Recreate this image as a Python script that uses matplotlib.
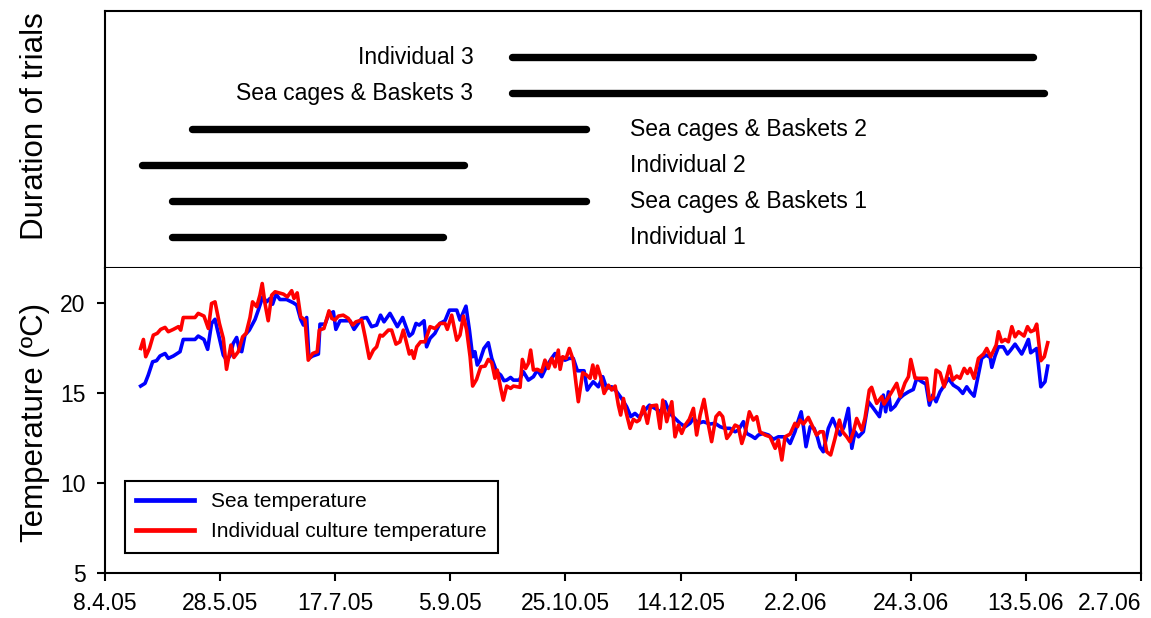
import matplotlib
matplotlib.use('Agg')
import matplotlib.pyplot as plt
import pandas as pd

plt.rcParams['font.family'] = ['Liberation Sans', 'DejaVu Sans']

start = pd.Timestamp('2005-04-08')

# trial durations (bottom to top)
trial_names = ['Individual 1', 'Sea cages & Baskets 1', 'Individual 2',
               'Sea cages & Baskets 2', 'Sea cages & Baskets 3', 'Individual 3']
trial_start = ['2005-05-07', '2005-05-07', '2005-04-24',
               '2005-05-16', '2005-10-02', '2005-10-02']
trial_end = ['2005-09-02', '2005-11-03', '2005-09-11',
             '2005-11-03', '2006-05-21', '2006-05-16']
label_side = ['right', 'right', 'right', 'right', 'left', 'left']

# days since 8.4.05 and temperatures
sea_day = [15.5, 17.4, 18.8, 20.7, 22.4, 23.9, 26.1, 27.5, 29.7, 32.6, 34.0, 39.1, 40.5, 43.0, 44.6,
           46.3, 47.8, 49.7, 51.4, 52.8, 54.3, 55.7, 57.2, 58.4, 59.4, 60.8, 62.7, 65.2, 66.6, 68.5,
           70.2, 71.7, 72.8, 74.3, 76.0, 78.9, 81.8, 83.3, 85.0, 86.2, 87.6, 88.6, 90.2, 92.7, 93.4,
           95.6, 97.0, 99.2, 100.3, 102.1, 106.4, 108.2, 110.0, 111.5, 113.7, 115.8, 118.0, 119.7,
           121.2, 123.8, 127.0, 129.3, 132.2, 133.6, 135.1, 136.5, 138.6, 139.7, 141.2, 143.3, 145.5,
           147.7, 149.6, 152.8, 154.2, 156.8, 158.3, 159.7, 160.7, 161.7, 162.9, 164.6, 166.5, 168.0,
           170.1, 171.9, 173.3, 174.5, 176.2, 177.4, 180.0, 181.7, 183.9, 186.1, 187.8, 189.7, 191.9,
           194.0, 195.5, 197.7, 199.8, 201.7, 203.4, 205.2, 208.1, 209.5, 210.7, 212.1, 214.3, 216.2,
           217.9, 220.1, 222.3, 224.4, 226.6, 228.4, 230.2, 232.1, 233.9, 236.5, 238.9, 241.4, 243.3,
           245.4, 247.6, 249.8, 252.0, 254.1, 255.6, 257.8, 259.9, 262.8, 265.0, 267.2, 269.3, 271.5,
           273.7, 275.1, 277.3, 278.7, 280.9, 282.4, 283.8, 286.0, 288.2, 290.3, 292.5, 295.4, 297.6,
           299.7, 301.2, 302.4, 303.4, 304.5, 306.3, 308.0, 309.4, 310.6, 312.0, 314.2, 316.1, 317.6,
           319.3, 321.0, 322.9, 324.4, 325.8, 327.3, 329.4, 331.6, 333.8, 336.4, 338.1, 339.1, 340.3,
           341.3, 343.2, 345.1, 346.8, 349.0, 351.1, 352.6, 354.8, 356.6, 358.1, 359.5, 361.0, 362.7,
           364.9, 366.3, 368.5, 370.7, 372.6, 374.3, 375.8, 377.5, 378.9, 380.8, 382.7, 384.5, 385.2,
           386.6, 388.1, 390.2, 392.0, 393.4, 395.3, 398.2, 399.7, 401.1, 402.1, 404.7, 406.5, 408.3,
           409.5]
sea_temp = [15.39, 15.54, 16.0, 16.74, 16.8, 17.06, 17.2, 16.93, 17.06, 17.3, 17.98, 17.98, 18.17, 17.98, 17.43,
            18.87, 19.1, 18.04, 17.11, 16.83, 17.06, 17.76, 18.09, 17.39, 17.3, 18.22, 18.5, 19.1, 19.61, 20.35,
            20.07, 20.26, 19.94, 20.5, 20.2, 20.2, 20.02, 19.89, 19.1, 18.78, 19.2, 16.93, 17.06, 17.17, 18.83,
            18.83, 19.33, 19.52, 18.54, 19.02, 19.02, 18.54, 18.87, 19.15, 19.2, 18.69, 18.78, 19.33,
            18.96, 19.43, 18.69, 19.2, 18.17, 18.32, 18.87, 18.78, 19.02, 17.57, 18.04, 18.32, 18.87,
            19.02, 19.61, 19.61, 19.06, 19.83, 18.5, 17.02, 17.3, 16.56, 16.83, 17.48, 17.8, 16.93,
            16.19, 16.0, 15.69, 15.72, 15.87, 15.72, 15.72, 16.19, 15.72, 15.91, 16.28, 15.91, 16.5,
            16.93, 17.2, 16.93, 16.83, 16.93, 16.93, 16.24, 16.24, 15.17, 15.4, 15.63, 15.35, 15.91,
            15.26, 15.35, 15.07, 14.7, 14.24, 13.69, 13.87, 13.65, 13.96, 14.33, 14.15, 13.96, 14.52,
            13.87, 13.59, 13.32, 13.13, 13.32, 13.59, 13.32, 13.41, 13.28, 13.32, 13.13, 13.04, 13.04,
            12.85, 12.94, 13.41, 12.76, 12.61, 12.48, 12.67, 12.76, 12.67, 12.43, 12.57, 12.57, 12.2,
            12.85, 13.5, 13.96, 13.13, 12.02, 13.13, 13.04, 12.57, 12.0, 11.74, 13.04, 13.59, 13.13,
            12.67, 13.13, 14.15, 11.93, 12.85, 12.57, 12.85, 14.52, 14.15, 13.69, 14.89, 13.96, 15.07,
            14.06, 14.28, 14.7, 14.89, 15.07, 15.2, 15.82, 15.63, 15.5, 14.33, 14.89, 14.52, 15.07,
            15.5, 15.82, 15.44, 15.26, 14.98, 15.35, 15.07, 14.83, 15.72, 16.93, 17.11, 16.98, 16.43,
            17.06, 17.57, 17.57, 17.17, 17.39, 17.72, 17.17, 17.57, 17.98, 17.24, 17.48, 15.35, 15.63,
            16.5]

cult_day = [15.5, 16.7, 17.7, 19.3, 21.0, 22.7, 24.2, 26.1, 27.5, 29.7, 31.9, 32.9, 34.0, 39.1, 40.5,
            43.0, 44.9, 46.3, 47.8, 49.7, 51.4, 52.8, 54.7, 56.0, 57.9, 59.8, 61.3, 63.0, 64.1, 65.9,
            67.3, 68.3, 69.5, 70.9, 72.4, 73.9, 77.5, 79.2, 81.1, 82.1, 83.5, 85.0, 86.9, 88.3, 90.2,
            92.2, 93.1, 95.1, 97.3, 98.5, 99.9, 101.4, 103.5, 105.7, 107.6, 109.0, 110.5, 111.5, 113.0,
            114.8, 116.6, 118.0, 119.5, 120.6, 123.1, 124.5, 126.4, 128.1, 129.6, 132.2, 133.2, 134.2,
            135.4, 137.1, 139.0, 141.2, 143.3, 145.5, 147.7, 148.7, 150.6, 152.8, 154.2, 155.7, 157.1,
            158.6, 159.7, 161.4, 163.2, 165.1, 166.5, 168.0, 169.4, 170.4, 171.9, 173.0, 174.5, 176.2,
            177.4, 180.3, 181.3, 182.7, 183.9, 184.9, 186.1, 187.8, 189.7, 191.1, 192.6, 194.0, 195.5,
            196.9, 197.7, 198.8, 200.3, 201.7, 203.4, 204.6, 205.6, 207.5, 209.2, 210.7, 211.9, 212.9,
            213.9, 215.3, 216.8, 218.7, 220.1, 221.6, 223.0, 224.0, 225.2, 226.3, 228.1, 229.5, 231.0,
            232.1, 233.9, 235.6, 237.0, 239.6, 241.1, 242.3, 244.0, 246.2, 247.6, 249.1, 250.5, 252.0,
            253.8, 255.6, 257.0, 258.5, 260.2, 261.7, 263.5, 265.4, 266.9, 268.3, 270.1, 271.5, 273.7,
            275.1, 276.6, 278.0, 279.9, 281.6, 283.1, 284.5, 286.7, 288.9, 291.1, 292.5, 294.0, 295.4,
            297.6, 299.7, 300.8, 301.9, 303.4, 305.5, 307.4, 309.1, 310.6, 312.0, 313.5, 315.2, 317.1,
            319.0, 320.4, 322.2, 323.6, 325.1, 326.5, 328.7, 330.1, 332.0, 333.0, 335.2, 337.4, 338.4,
            340.3, 342.2, 343.9, 345.4, 347.5, 349.0, 350.0, 351.9, 356.9, 358.1, 359.8, 361.0, 362.7,
            364.5, 366.8, 368.2, 370.0, 371.4, 373.2, 374.6, 375.8, 377.5, 379.4, 381.6, 383.0, 384.7,
            387.1, 388.1, 389.5, 391.0, 392.4, 393.9, 395.3, 396.8, 399.2, 400.7, 402.1, 403.6, 404.7,
            406.5, 408.0, 409.5]
cult_temp = [17.48, 17.98, 17.02, 17.48, 18.22, 18.32, 18.54, 18.65, 18.41, 18.54, 18.69, 18.5, 19.2, 19.2, 19.43,
             19.28, 18.59, 19.98, 20.07, 18.87, 18.04, 16.32, 17.67, 16.98, 17.3, 18.13, 18.32, 19.2, 20.07, 19.8,
             20.44, 21.09, 19.98, 19.02, 20.44, 20.63, 20.5, 20.35, 20.69, 20.26, 20.57, 19.24, 19.06, 16.83, 17.2,
             17.3, 18.5, 18.59, 19.57, 19.15, 19.06, 19.28, 19.33, 19.15, 18.78, 18.96, 19.02, 19.06, 18.13,
             16.93, 17.39, 17.57, 18.22, 18.17, 18.5, 18.5, 17.72, 17.85, 18.5, 17.17, 17.35, 16.93,
             17.57, 17.85, 17.85, 18.69, 18.59, 18.87, 18.87, 18.54, 19.33, 17.94, 18.22, 19.28, 18.5,
             17.02, 15.39, 15.76, 16.46, 16.5, 16.87, 16.69, 15.82, 16.28, 15.26, 14.61, 15.39, 15.26,
             15.39, 15.32, 16.87, 16.37, 16.65, 17.39, 16.28, 16.32, 16.19, 16.83, 16.37, 16.93, 16.46,
             17.39, 16.32, 17.02, 16.93, 17.48, 16.83, 15.54, 14.52, 16.13, 16.0, 15.82, 16.56, 15.82,
             16.5, 15.91, 14.98, 15.44, 15.17, 15.39, 14.33, 13.78, 14.7, 13.96, 13.04, 13.54, 13.41,
             13.5, 14.24, 13.32, 14.28, 14.33, 13.04, 14.61, 13.41, 14.52, 12.57, 13.22, 12.76, 13.22,
             13.54, 14.15, 12.67, 13.78, 14.65, 13.5, 12.3, 13.69, 13.91, 13.69, 12.48, 12.72, 13.22,
             13.13, 12.2, 12.76, 13.96, 13.5, 13.69, 12.85, 12.67, 12.57, 11.93, 12.39, 11.28, 12.57,
             12.72, 13.32, 13.13, 13.5, 13.28, 13.65, 13.13, 12.67, 12.85, 12.85, 11.74, 11.56, 12.48,
             13.5, 12.85, 12.57, 12.3, 12.85, 13.59, 12.94, 13.59, 15.17, 15.32, 14.43, 14.8, 14.39,
             14.76, 15.17, 15.54, 14.8, 15.57, 15.91, 16.87, 15.82, 15.82, 14.61, 14.76, 16.28, 16.13,
             15.35, 16.5, 15.72, 15.95, 15.82, 16.37, 16.09, 16.37, 15.82, 16.93, 17.17, 17.48, 17.02,
             17.67, 18.41, 17.85, 17.98, 17.85, 18.69, 18.13, 18.41, 18.17, 18.69, 18.41, 18.5, 18.83,
             16.8, 17.02, 17.8]

tick_dates = pd.date_range(start, periods=10, freq='50D')
tick_labels = [f"{d.day}.{d.month}.{d:%y}" for d in tick_dates]

sea_x = start + pd.to_timedelta(sea_day, unit='D')
cult_x = start + pd.to_timedelta(cult_day, unit='D')

fig = plt.figure(figsize=(11.51, 6.18), dpi=100)
ax_top = fig.add_axes([0.0912, 0.5663, 0.9001, 0.4159])
ax = fig.add_axes([0.0912, 0.0728, 0.9001, 0.4935])

xmin, xmax = tick_dates[0], tick_dates[-1]

# top panel: bars for each trial
for i, name in enumerate(trial_names):
    y = i + 1
    s, e = pd.Timestamp(trial_start[i]), pd.Timestamp(trial_end[i])
    ax_top.plot([s, e], [y, y], color='black', lw=5.3, solid_capstyle='round')
    if label_side[i] == 'left':
        ax_top.text(pd.Timestamp('2005-09-15'), y, name, ha='right', va='center', fontsize=16.5)
    else:
        ax_top.text(pd.Timestamp('2005-11-22'), y, name, ha='left', va='center', fontsize=16.5)
ax_top.set_xlim(xmin, xmax)
ax_top.set_ylim(0.14, 7.28)
ax_top.set_xticks([])
ax_top.set_yticks([])
for sp in ax_top.spines.values():
    sp.set_linewidth(1.5)

# bottom panel: temperatures
ax.plot(sea_x, sea_temp, color='#0000ff', lw=2.6, label='Sea temperature')
ax.plot(cult_x, cult_temp, color='#ff0000', lw=2.6, label='Individual culture temperature')
ax.set_xlim(xmin, xmax)
ax.set_ylim(5, 21.95)
ax.set_yticks([5, 10, 15, 20])
ax.set_xticks(tick_dates)
ax.set_xticklabels(tick_labels)
ax.get_xticklabels()[-1].set_horizontalalignment('right')
ax.tick_params(direction='out', length=6, width=1.5, labelsize=16.5, pad=8)
ax.spines['top'].set_visible(False)
for side in ['left', 'bottom', 'right']:
    ax.spines[side].set_linewidth(1.5)

leg = ax.legend(loc='lower left', bbox_to_anchor=(0.019, 0.066), borderaxespad=0,
                fontsize=15, fancybox=False, framealpha=1, edgecolor='black',
                handlelength=2.8, handletextpad=0.8, borderpad=0.55, labelspacing=0.55)
leg.get_frame().set_linewidth(1.5)
for ln in leg.get_lines():
    ln.set_linewidth(3.4)

fig.text(0.030, 1 - 126 / 618, 'Duration of trials', rotation=90, ha='center', va='center', fontsize=22.5)
fig.text(0.030, 1 - 422 / 618, 'Temperature (ºC)', rotation=90, ha='center', va='center', fontsize=22.5)

fig.savefig('out.png', dpi=100)
